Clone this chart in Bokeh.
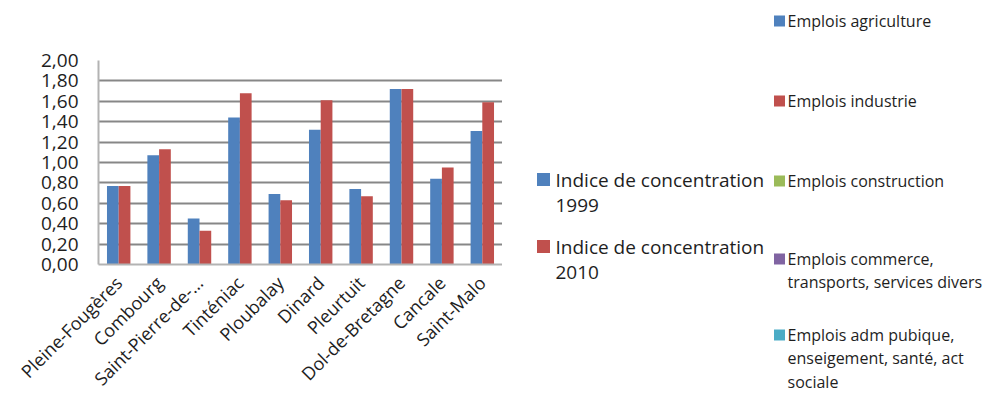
import math
from bokeh.plotting import figure
from bokeh.models import FactorRange, Range1d, FixedTicker, ColumnDataSource
from bokeh.transform import dodge
from bokeh.layouts import row
from bokeh.core.properties import value
from bokeh.embed import file_html
from bokeh.resources import INLINE

# ---------------- data ----------------
communes = ["Pleine-Fougères", "Combourg", "Saint-Pierre-de-…", "Tinténiac", "Ploubalay",
            "Dinard", "Pleurtuit", "Dol-de-Bretagne", "Cancale", "Saint-Malo"]
indice_1999 = [0.77, 1.07, 0.45, 1.44, 0.69, 1.32, 0.74, 1.72, 0.84, 1.31]
indice_2010 = [0.77, 1.13, 0.33, 1.68, 0.63, 1.61, 0.67, 1.72, 0.95, 1.59]
y_ticks = [0, 0.2, 0.4, 0.6, 0.8, 1.0, 1.2, 1.4, 1.6, 1.8, 2.0]
y_tick_labels = ["0,00", "0,20", "0,40", "0,60", "0,80", "1,00", "1,20", "1,40", "1,60", "1,80", "2,00"]
series_labels = ["Indice de concentration\n1999", "Indice de concentration\n2010"]
series_colors = ["#4F81BD", "#C0504D"]
emplois_labels = ["Emplois agriculture", "Emplois industrie", "Emplois construction",
                  "Emplois commerce,\ntransports, services divers",
                  "Emplois adm pubique,\nenseigement, santé, act\nsociale"]
emplois_colors = ["#4F81BD", "#C0504D", "#9BBB59", "#8064A2", "#4BACC6"]

FONT = "Open Sans"
TEXT_COLOR = "#1e1e1e"

# ---------------- chart ----------------
src = ColumnDataSource(dict(commune=communes, v1999=indice_1999, v2010=indice_2010))

p = figure(frame_width=404, frame_height=204, x_range=FactorRange(factors=communes),
           y_range=Range1d(0, 2.0), output_backend="svg", toolbar_location=None,
           min_border_left=98, min_border_right=0, min_border_top=60, min_border_bottom=130)
p.outline_line_color = None
p.background_fill_color = "white"
p.border_fill_color = "white"

bw = 0.29
p.vbar(x=dodge("commune", -bw / 2, range=p.x_range), top="v1999", width=bw, bottom=0,
       source=src, fill_color=series_colors[0], line_color=None)
p.vbar(x=dodge("commune", bw / 2, range=p.x_range), top="v2010", width=bw, bottom=0,
       source=src, fill_color=series_colors[1], line_color=None)

p.xgrid.grid_line_color = None
p.ygrid.grid_line_color = "#878787"
p.ygrid.grid_line_width = 2
p.yaxis.ticker = FixedTicker(ticks=y_ticks)
p.ygrid.ticker = FixedTicker(ticks=y_ticks)
p.yaxis.major_label_overrides = dict(zip(y_ticks, y_tick_labels))

for ax in (p.xaxis[0], p.yaxis[0]):
    ax.axis_line_color = "#b3b3b3"
    ax.axis_line_width = 2
    ax.major_tick_line_color = None
    ax.minor_tick_line_color = None
    ax.major_tick_out = 0
    ax.major_tick_in = 0
    ax.major_label_text_font = FONT
    ax.major_label_text_color = TEXT_COLOR

p.yaxis.major_label_text_font_size = "19px"
p.yaxis.major_label_standoff = 20
p.xaxis.major_label_text_font_size = "18px"
p.xaxis.major_label_orientation = math.pi / 4
p.xaxis.major_label_standoff = 15

# ---------------- legends panel ----------------
LW = 987 - 502
lg = figure(width=LW, height=394, x_range=Range1d(0, LW), y_range=Range1d(394, 0),
            output_backend="svg", toolbar_location=None,
            min_border_left=0, min_border_right=0, min_border_top=0, min_border_bottom=0)
lg.frame_align = False
lg.axis.visible = False
lg.grid.visible = False
lg.outline_line_color = None

# legend 1 (chart series)
l1_x_sq, l1_x_txt, l1_y0, l1_step, l1_line = 41, 53, 179, 67, 26
sq_x, sq_y, sq_c, tx, ty, tt = [], [], [], [], [], []
for i, (lab, col) in enumerate(zip(series_labels, series_colors)):
    y = l1_y0 + i * l1_step
    sq_x.append(l1_x_sq); sq_y.append(y); sq_c.append(col)
    for j, line in enumerate(lab.split("\n")):
        tx.append(l1_x_txt); ty.append(y + j * l1_line); tt.append(line)
lg.rect(x=sq_x, y=sq_y, width=13, height=13, fill_color=sq_c, line_color=None)
lg.text(x=tx, y=ty, text=tt, text_font=value(FONT), text_font_size="19px",
        text_baseline="middle", text_align="left", text_color=TEXT_COLOR)

# legend 2 (empty series)
l2_x_sq, l2_x_txt, l2_line = 277, 285, 23.5
l2_y = [20, 100, 180, 258, 334]
sq_x, sq_y, sq_c, tx, ty, tt = [], [], [], [], [], []
for lab, col, y in zip(emplois_labels, emplois_colors, l2_y):
    sq_x.append(l2_x_sq); sq_y.append(y + 0.5); sq_c.append(col)
    for j, line in enumerate(lab.split("\n")):
        tx.append(l2_x_txt); ty.append(y + j * l2_line); tt.append(line)
lg.rect(x=sq_x, y=sq_y, width=11, height=11, fill_color=sq_c, line_color=None)
lg.text(x=tx, y=ty, text=tt, text_font=value(FONT), text_font_size="16px",
        text_baseline="middle", text_align="left", text_color=TEXT_COLOR)

layout = row(p, lg, spacing=0)
open("out.html", "w").write(file_html(layout, INLINE))
